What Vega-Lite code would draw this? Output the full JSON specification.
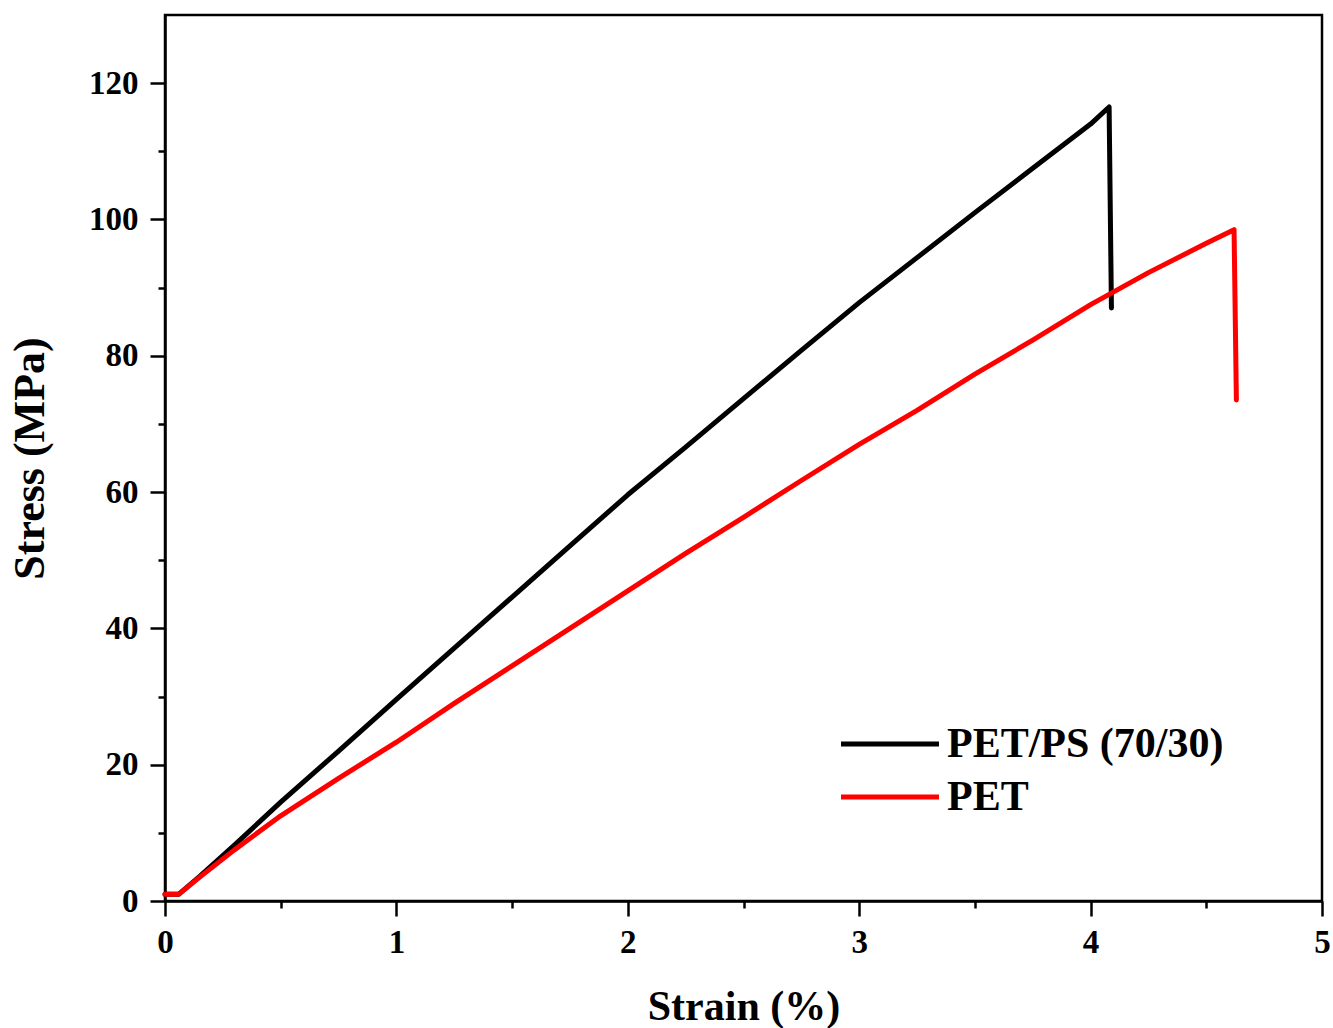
{
  "$schema": "https://vega.github.io/schema/vega-lite/v6.json",
  "width": 1157,
  "height": 886,
  "autosize": {"type": "none"},
  "padding": {"left": 165, "top": 15, "right": 11, "bottom": 127},
  "background": "white",
  "config": {
    "view": {"stroke": "black", "strokeWidth": 2.5},
    "font": "Liberation Serif"
  },
  "data": {
    "values": [
      {"strain": 0.0, "stress": 1.0, "sample": "PET/PS (70/30)"},
      {"strain": 0.06, "stress": 1.0, "sample": "PET/PS (70/30)"},
      {"strain": 0.15, "stress": 3.6, "sample": "PET/PS (70/30)"},
      {"strain": 0.3, "stress": 8.2, "sample": "PET/PS (70/30)"},
      {"strain": 0.5, "stress": 14.5, "sample": "PET/PS (70/30)"},
      {"strain": 0.75, "stress": 22.0, "sample": "PET/PS (70/30)"},
      {"strain": 1.0, "stress": 29.6, "sample": "PET/PS (70/30)"},
      {"strain": 1.25, "stress": 37.1, "sample": "PET/PS (70/30)"},
      {"strain": 1.5, "stress": 44.6, "sample": "PET/PS (70/30)"},
      {"strain": 1.75, "stress": 52.1, "sample": "PET/PS (70/30)"},
      {"strain": 2.0, "stress": 59.6, "sample": "PET/PS (70/30)"},
      {"strain": 2.25, "stress": 66.6, "sample": "PET/PS (70/30)"},
      {"strain": 2.5, "stress": 73.7, "sample": "PET/PS (70/30)"},
      {"strain": 2.75, "stress": 80.8, "sample": "PET/PS (70/30)"},
      {"strain": 3.0, "stress": 87.8, "sample": "PET/PS (70/30)"},
      {"strain": 3.25, "stress": 94.4, "sample": "PET/PS (70/30)"},
      {"strain": 3.5, "stress": 101.0, "sample": "PET/PS (70/30)"},
      {"strain": 3.75, "stress": 107.5, "sample": "PET/PS (70/30)"},
      {"strain": 4.0, "stress": 114.0, "sample": "PET/PS (70/30)"},
      {"strain": 4.08, "stress": 116.5, "sample": "PET/PS (70/30)"},
      {"strain": 4.09, "stress": 87.0, "sample": "PET/PS (70/30)"},
      {"strain": 0.0, "stress": 1.0, "sample": "PET"},
      {"strain": 0.06, "stress": 1.0, "sample": "PET"},
      {"strain": 0.15, "stress": 3.5, "sample": "PET"},
      {"strain": 0.3, "stress": 7.5, "sample": "PET"},
      {"strain": 0.5, "stress": 12.5, "sample": "PET"},
      {"strain": 0.75, "stress": 18.0, "sample": "PET"},
      {"strain": 1.0, "stress": 23.3, "sample": "PET"},
      {"strain": 1.25, "stress": 29.0, "sample": "PET"},
      {"strain": 1.5, "stress": 34.5, "sample": "PET"},
      {"strain": 1.75, "stress": 40.0, "sample": "PET"},
      {"strain": 2.0, "stress": 45.5, "sample": "PET"},
      {"strain": 2.25, "stress": 51.0, "sample": "PET"},
      {"strain": 2.5, "stress": 56.3, "sample": "PET"},
      {"strain": 2.75, "stress": 61.7, "sample": "PET"},
      {"strain": 3.0, "stress": 67.0, "sample": "PET"},
      {"strain": 3.25, "stress": 72.0, "sample": "PET"},
      {"strain": 3.5, "stress": 77.3, "sample": "PET"},
      {"strain": 3.75, "stress": 82.3, "sample": "PET"},
      {"strain": 4.0, "stress": 87.5, "sample": "PET"},
      {"strain": 4.25, "stress": 92.2, "sample": "PET"},
      {"strain": 4.5, "stress": 96.5, "sample": "PET"},
      {"strain": 4.62, "stress": 98.5, "sample": "PET"},
      {"strain": 4.63, "stress": 73.5, "sample": "PET"}
    ]
  },
  "mark": {"type": "line", "strokeWidth": 5, "strokeJoin": "round", "strokeCap": "round"},
  "encoding": {
    "x": {
      "field": "strain", "type": "quantitative",
      "scale": {"domain": [0, 5], "nice": false, "zero": false},
      "axis": {
        "title": "Strain (%)",
        "values": [0, 0.5, 1, 1.5, 2, 2.5, 3, 3.5, 4, 4.5, 5],
        "labelExpr": "datum.value % 1 === 0 ? datum.value : ''",
        "grid": false,
        "domainColor": "black", "domainWidth": 2.5,
        "tickColor": "black", "tickWidth": 2.5,
        "tickSize": {"condition": {"test": "datum.value % 1 !== 0", "value": 7}, "value": 15},
        "labelFont": "Liberation Serif", "labelFontWeight": "bold", "labelFontSize": 33,
        "labelColor": "black", "labelPadding": 10, "labelFlush": false, "labelOverlap": false,
        "titleFont": "Liberation Serif", "titleFontWeight": "bold", "titleFontSize": 42,
        "titleColor": "black", "titlePadding": 27
      }
    },
    "y": {
      "field": "stress", "type": "quantitative",
      "scale": {"domain": [0, 130], "nice": false},
      "axis": {
        "title": "Stress (MPa)",
        "values": [0, 10, 20, 30, 40, 50, 60, 70, 80, 90, 100, 110, 120],
        "labelExpr": "datum.value % 20 === 0 ? datum.value : ''",
        "grid": false,
        "domainColor": "black", "domainWidth": 2.5,
        "tickColor": "black", "tickWidth": 2.5,
        "tickSize": {"condition": {"test": "datum.value % 20 !== 0", "value": 7}, "value": 15},
        "labelFont": "Liberation Serif", "labelFontWeight": "bold", "labelFontSize": 33,
        "labelColor": "black", "labelPadding": 12, "labelFlush": false, "labelOverlap": false,
        "titleFont": "Liberation Serif", "titleFontWeight": "bold", "titleFontSize": 44,
        "titleColor": "black", "titlePadding": 36
      }
    },
    "color": {
      "field": "sample", "type": "nominal",
      "scale": {"domain": ["PET/PS (70/30)", "PET"], "range": ["black", "#ff0000"]},
      "legend": {
        "title": null,
        "orient": "none",
        "legendX": 704,
        "legendY": 708,
        "symbolType": "M-3,0H3",
        "symbolSize": 1067,
        "symbolStrokeWidth": 5,
        "symbolFillColor": "transparent",
        "labelFont": "Liberation Serif",
        "labelFontWeight": "bold",
        "labelFontSize": 42,
        "labelColor": "black",
        "labelOffset": 36,
        "rowPadding": 11,
        "labelLimit": 500
      }
    }
  }
}
